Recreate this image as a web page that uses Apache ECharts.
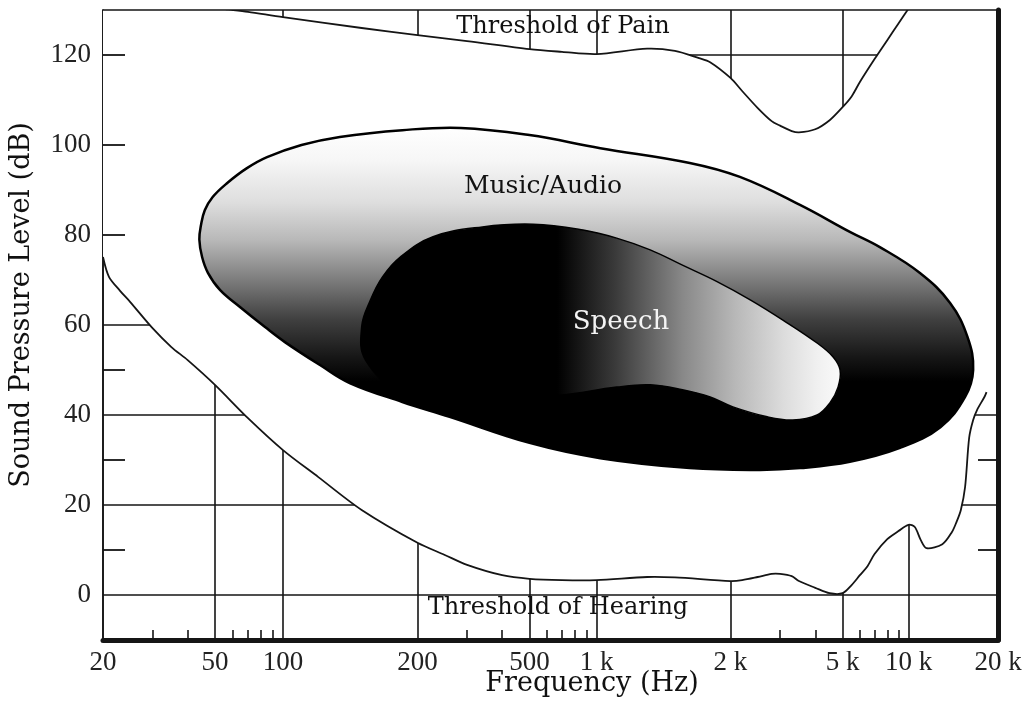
<!DOCTYPE html>
<html>
<head>
<meta charset="utf-8">
<title>Auditory area</title>
<script src="https://cdn.jsdelivr.net/npm/echarts@6.0.0/dist/echarts.min.js"></script>
<style>
  html, body { margin: 0; padding: 0; background: #fff; }
  #chart-container { width: 1029px; height: 727px; }
</style>
</head>
<body>
<div id="chart-container"></div>
<script>
// labelled frequencies on the x axis
var tickFreqs = [20, 50, 100, 200, 500, 1000, 2000, 5000, 10000, 20000];
var tickLabels = ['20', '50', '100', '200', '500', '1 k', '2 k', '5 k', '10 k', '20 k'];
// the printed scale is not evenly logarithmic: where each label sits along the axis (0-100)
var tickPos = [0, 12.51, 20.11, 35.14, 47.65, 55.14, 70.11, 82.63, 90, 100];
var minorFreqs = [30, 40, 60, 70, 80, 90, 300, 400, 600, 700, 800, 900,
                  3000, 4000, 6000, 7000, 8000, 9000];

var dbTicks = [0, 20, 40, 60, 80, 100, 120];
var leftMarks = [10, 30, 50, 80, 100, 120];
var rightMarks = [10, 30];

// [frequency Hz, dB]
var hearingThreshold = [
    [20, 75.1], [21, 70.7], [23, 67.6], [25, 65.1], [30, 59.3], [35, 55.1], [40, 52.2],
    [50, 46.7], [70, 39.3], [100, 32.2], [120, 26.2], [150, 18.9], [200, 11.6], [250, 8.9],
    [300, 6.7], [400, 4.4], [500, 3.6], [700, 3.3], [1000, 3.3], [1300, 4.0], [1500, 3.9],
    [2000, 3.1], [2200, 3.3], [2500, 4.0], [2800, 4.7], [3000, 4.7], [3300, 4.2], [3500, 3.1],
    [4000, 1.6], [4500, 0.4], [5000, 0.4], [5500, 2.2], [6000, 4.4], [6500, 6.4], [7000, 9.1],
    [8000, 12.4], [9000, 14.2], [10000, 15.6], [10500, 15.1], [11000, 12.2], [11500, 10.4],
    [13000, 11.3], [14000, 14], [14500, 16.2], [15000, 18.9], [15500, 24], [16000, 35],
    [16500, 38.9], [17000, 41.1], [18000, 44], [18300, 45.1]
];

var painThreshold = [
    [20, 131], [50, 130.4], [60, 130], [70, 129.6], [100, 128.4], [150, 126], [200, 124.4],
    [300, 123.1], [500, 121.3], [700, 120.7], [1000, 120.2], [1300, 121.4], [1500, 120.9],
    [1700, 119.3], [1800, 118.4], [2000, 114.9], [2200, 112], [2500, 108.2], [2800, 105.3],
    [3000, 104.3], [3300, 103.1], [3500, 102.8], [4000, 103.5], [4500, 105.5], [5000, 108.4],
    [5500, 110.8], [6000, 114], [7000, 119.1], [8000, 123.3], [9000, 127], [10000, 130.3],
    [11000, 134.3]
];

var musicArea = [
    [44, 79], [44.6, 82.2], [46, 85.5], [49, 88.4], [56.5, 91.5], [69, 94.8], [85, 97.3],
    [110, 100], [134, 101.8], [185, 103.3], [285, 103.8], [500, 102.2], [1020, 99.3],
    [1620, 96], [2160, 92.9], [3530, 86.7], [5400, 80.7], [7400, 77.3], [10900, 71.6],
    [13800, 64.9], [15800, 57.3], [16500, 50], [15500, 44], [12800, 37.3], [9150, 32.7],
    [5400, 29.6], [3530, 28.2], [2550, 27.8], [1620, 28.2], [1020, 30.4], [500, 33.8],
    [260, 39.6], [185, 42.9], [141, 47.1], [121, 51.1], [101, 56.2], [83, 59.6], [64.5, 64],
    [52.6, 67.8], [47.2, 71.6], [45, 75.1]
];

var speechArea = [
    [150, 59.6], [157, 65.6], [167, 70.7], [183, 75.1], [227, 79.6], [340, 81.8], [520, 82.4],
    [870, 81.1], [1110, 79.3], [1320, 76.7], [1560, 73.3], [1870, 69.6], [2350, 65.6],
    [3070, 61.1], [4060, 56], [4630, 52.9], [4900, 50], [4820, 46.2], [4510, 42.7],
    [4060, 40], [3330, 38.9], [2700, 39.6], [2040, 41.8], [1800, 44], [1560, 45.6],
    [1320, 46.7], [1110, 46.2], [690, 44.4], [330, 43.3], [183, 45.6], [153, 52.2]
];

// frequency -> position along the drawn axis
function fx(f) {
    var n = tickFreqs.length, i = 0;
    while (i < n - 2 && f > tickFreqs[i + 1]) i++;
    var t = Math.log(f / tickFreqs[i]) / Math.log(tickFreqs[i + 1] / tickFreqs[i]);
    return tickPos[i] + t * (tickPos[i + 1] - tickPos[i]);
}

// audible region: between the two thresholds, closed off beyond the plot edges
var audible = hearingThreshold.concat(
    [[24000, 45.1], [24000, 140]],
    painThreshold.slice().reverse(),
    [[15, 140], [15, 75]]
);

var serifFont = 'DejaVu Serif';
var ink = '#151515';

function shape(name, points, z, style, closed, smooth) {
    return {
        name: name,
        type: 'custom',
        coordinateSystem: 'cartesian2d',
        clip: true,
        silent: true,
        z: z,
        data: [0],
        renderItem: function (params, api) {
            var pts = points.map(function (p) { return api.coord([fx(p[0]), p[1]]); });
            return {
                type: closed ? 'polygon' : 'polyline',
                shape: { points: pts, smooth: smooth },
                style: style
            };
        }
    };
}

function label(text, x, y, size, color, rotation) {
    return {
        type: 'text', x: x, y: y, z: 20, rotation: rotation || 0,
        style: {
            text: text, font: size + 'px "' + serifFont + '"', fill: color,
            align: 'center', verticalAlign: 'middle'
        }
    };
}

var dom = document.getElementById('chart-container');
var myChart = echarts.init(dom, null, { renderer: 'canvas' });

var option = {
    animation: false,
    backgroundColor: '#fff',
    grid: { left: 103, right: 31, top: 10, bottom: 87, outerBoundsMode: 'none' },
    xAxis: [
        {
            type: 'value', min: 0, max: 100, position: 'bottom',
            axisLine: { show: true, onZero: false, lineStyle: { color: ink, width: 5 } },
            axisTick: { show: false, customValues: tickPos },
            axisLabel: {
                customValues: tickPos, showMinLabel: true, showMaxLabel: true,
                color: '#222', fontFamily: 'Liberation Serif', fontSize: 27, margin: 9,
                formatter: function (v) {
                    for (var i = 0; i < tickPos.length; i++) {
                        if (Math.abs(tickPos[i] - v) < 1e-6) return tickLabels[i];
                    }
                    return '';
                }
            },
            splitLine: { show: true, customValues: tickPos, lineStyle: { color: ink, width: 1.6 } }
        },
        {
            type: 'value', min: 0, max: 100, position: 'bottom',
            axisLine: { show: false, onZero: false },
            axisTick: {
                show: true, inside: true, length: 10, customValues: minorFreqs.map(fx),
                lineStyle: { color: ink, width: 1.6 }
            },
            axisLabel: { show: false },
            splitLine: { show: false }
        },
        {
            type: 'value', min: 0, max: 100, position: 'top', z: 6,
            axisLine: { show: true, onZero: false, lineStyle: { color: ink, width: 1.6 } },
            axisTick: { show: false }, axisLabel: { show: false }, splitLine: { show: false }
        }
    ],
    yAxis: [
        {
            type: 'value', min: -10, max: 130, position: 'left',
            axisLine: { show: true, onZero: false, lineStyle: { color: ink, width: 1.6 } },
            axisTick: { show: false, customValues: dbTicks },
            axisLabel: {
                customValues: dbTicks, color: '#222', fontFamily: 'Liberation Serif',
                fontSize: 27, margin: 12
            },
            splitLine: { show: true, customValues: dbTicks, lineStyle: { color: ink, width: 1.6 } }
        },
        {
            type: 'value', min: -10, max: 130, position: 'left', z: 6,
            axisLine: { show: false, onZero: false },
            axisTick: {
                show: true, inside: true, length: 22, customValues: leftMarks,
                lineStyle: { color: ink, width: 1.8 }
            },
            axisLabel: { show: false }, splitLine: { show: false }
        },
        {
            type: 'value', min: -10, max: 130, position: 'right', z: 6,
            axisLine: { show: true, onZero: false, lineStyle: { color: ink, width: 5 } },
            axisTick: {
                show: true, inside: true, length: 20, customValues: rightMarks,
                lineStyle: { color: ink, width: 1.8 }
            },
            axisLabel: { show: false }, splitLine: { show: false }
        }
    ],
    series: [
        shape('Audible range', audible, 2, { fill: '#fff', stroke: null }, true, 0.3),
        shape('Threshold of Hearing', hearingThreshold, 3,
            { fill: null, stroke: ink, lineWidth: 1.8 }, false, 0.3),
        shape('Threshold of Pain', painThreshold, 3,
            { fill: null, stroke: ink, lineWidth: 1.8 }, false, 0.3),
        shape('Music/Audio', musicArea, 4, {
            fill: new echarts.graphic.LinearGradient(0, 0, 0, 1, [
                { offset: 0, color: '#ffffff' },
                { offset: 0.1, color: '#f6f6f6' },
                { offset: 0.22, color: '#dedede' },
                { offset: 0.33, color: '#b8b8b8' },
                { offset: 0.45, color: '#7a7a7a' },
                { offset: 0.56, color: '#404040' },
                { offset: 0.67, color: '#161616' },
                { offset: 0.74, color: '#000000' },
                { offset: 1, color: '#000000' }
            ]),
            stroke: '#000', lineWidth: 2.5
        }, true, 0.4),
        shape('Speech', speechArea, 5, {
            fill: new echarts.graphic.LinearGradient(0, 0, 1, 0, [
                { offset: 0, color: '#000000' },
                { offset: 0.41, color: '#000000' },
                { offset: 0.53, color: '#3a3a3a' },
                { offset: 0.67, color: '#888888' },
                { offset: 0.78, color: '#b8b8b8' },
                { offset: 0.88, color: '#dcdcdc' },
                { offset: 0.95, color: '#f0f0f0' },
                { offset: 1, color: '#fafafa' }
            ]),
            stroke: '#000', lineWidth: 1.5
        }, true, 0.4)
    ],
    graphic: [
        label('Threshold of Pain', 563, 27, 24, '#111'),
        label('Music/Audio', 543, 186, 25, '#111'),
        label('Speech', 621, 322, 26, '#f4f4f4'),
        label('Threshold of Hearing', 558, 608, 24, '#111'),
        label('Frequency (Hz)', 592, 684, 27, '#111'),
        label('Sound Pressure Level (dB)', 22, 305, 27, '#111', Math.PI / 2)
    ]
};

if (option && typeof option === 'object') {
    myChart.setOption(option);
}

window.addEventListener('resize', myChart.resize);
</script>
</body>
</html>
